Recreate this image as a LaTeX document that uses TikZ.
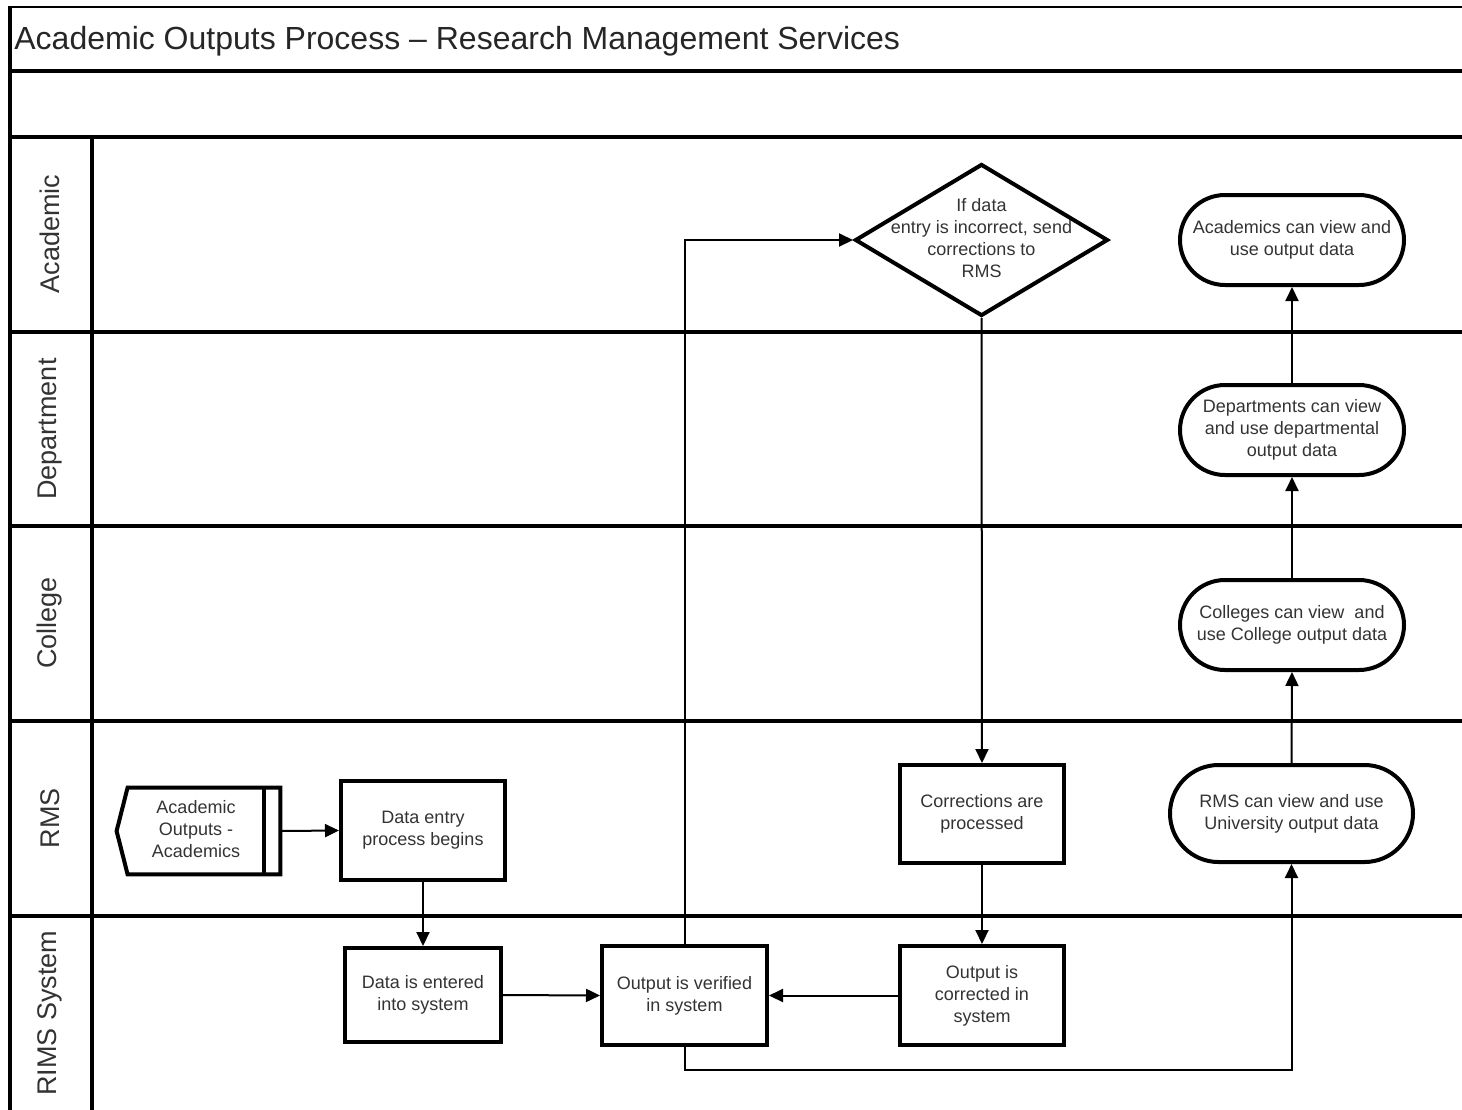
\documentclass[tikz,border=0pt]{standalone}
\usepackage{fontspec}
\setmainfont{Liberation Sans}
\usetikzlibrary{shapes.geometric,shapes.misc,arrows.meta}
\begin{document}
\begin{tikzpicture}[x=0.5pt,y=-0.5pt,
  txt/.style={font=\fontsize{9}{11}\selectfont,text=black!80,align=center},
  box/.style={txt,draw,line width=2pt,rectangle,inner sep=0pt},
  term/.style={txt,draw,line width=2pt,rounded rectangle,inner sep=0pt},
  conn/.style={line width=1pt,-{Triangle[length=7pt,width=6.5pt]}},
  lane/.style={line width=2pt},
  lanelabel/.style={rotate=90,font=\fontsize{13.5}{16}\selectfont,text=black!80}]
\useasboundingbox (0,0) rectangle (1462,1109);
\clip (0,0) rectangle (1462,1109);
% frame
\draw[line width=1pt] (10,7) -- (1470,7);
\draw[lane] (10,6) -- (10,1115);
\foreach \yy in {71,137,332,526,721,916} \draw[lane] (10,\yy) -- (1470,\yy);
\draw[lane] (92,137) -- (92,1115);
% title
\node[anchor=base west,inner sep=0pt,font=\fontsize{16}{19}\selectfont,text=black!85] (title) at (14,49) {Academic Outputs Process -- Research Management Services};
% lane labels
\node[lanelabel] (lAcad) at (50,234) {Academic};
\node[lanelabel] (lDept) at (50,429) {Department};
\node[lanelabel] (lColl) at (50,623) {College};
\node[lanelabel] (lRMS) at (50,818) {RMS};
\node[lanelabel] (lRIMS) at (50,1013) {RIMS System};
% start shape
\node[inner sep=0pt,minimum width=81.5pt,minimum height=43pt] (ao) at (198.5,831) {};
\draw[line width=2pt,line join=miter] (ao.west) -- ([xshift=5.5pt]ao.north west) -- (ao.north east) -- (ao.south east) -- ([xshift=5.5pt]ao.south west) -- cycle;
\draw[line width=2pt] ([xshift=-8pt]ao.north east) -- ([xshift=-8pt]ao.south east);
\node[txt] (aotext) at (196,829) {Academic\\Outputs -\\Academics};
% process boxes
\node[box,minimum width=82pt,minimum height=49.5pt] (de) at (423,830.5) {Data entry\\process begins};
\node[box,minimum width=78pt,minimum height=47pt] (dent) at (423,995) {Data is entered\\into system};
\node[box,minimum width=82.5pt,minimum height=49.5pt] (ver) at (684.5,995.5) {Output is verified\\in system};
\node[box,minimum width=82pt,minimum height=49.5pt] (cor) at (982,995.5) {Output is\\corrected in\\system};
\node[box,minimum width=82pt,minimum height=49pt] (corr) at (982,814) {Corrections are\\processed};
% decision
\node[draw,line width=2pt,diamond,inner sep=0pt,minimum width=126.5pt,minimum height=76pt] (dia) at (981.5,240) {};
\node[txt] (diatext) at (981.5,238) {If data\\entry is incorrect, send\\corrections to\\RMS};
% terminals
\node[term,minimum width=112pt,minimum height=45pt] (acv) at (1292,240) {Academics can view and\\use output data};
\node[term,minimum width=112pt,minimum height=45pt] (dpv) at (1292,430) {Departments can view\\and use departmental\\output data};
\node[term,minimum width=112pt,minimum height=45pt] (clv) at (1292,625) {Colleges can view~ and\\use College output data};
\node[term,minimum width=121.5pt,minimum height=48.5pt] (rmv) at (1291.5,813.5) {RMS can view and use\\University output data};
% connectors
\draw[conn] (ao.east) -- (de.west);
\draw[conn] (de.south) -- (dent.north);
\draw[conn] (dent.east) -- (ver.west);
\draw[conn] (cor.west) -- (ver.east);
\draw[conn] (corr.south) -- (cor.north);
\draw[conn] (dia.south) -- (corr.north);
\draw[conn] (ver.north) |- (dia.west);
\draw[conn] (ver.south) -- ++(0,23) -| (rmv.south);
\draw[conn] (rmv.north) -- (clv.south);
\draw[conn] (clv.north) -- (dpv.south);
\draw[conn] (dpv.north) -- (acv.south);
\end{tikzpicture}
\end{document}
